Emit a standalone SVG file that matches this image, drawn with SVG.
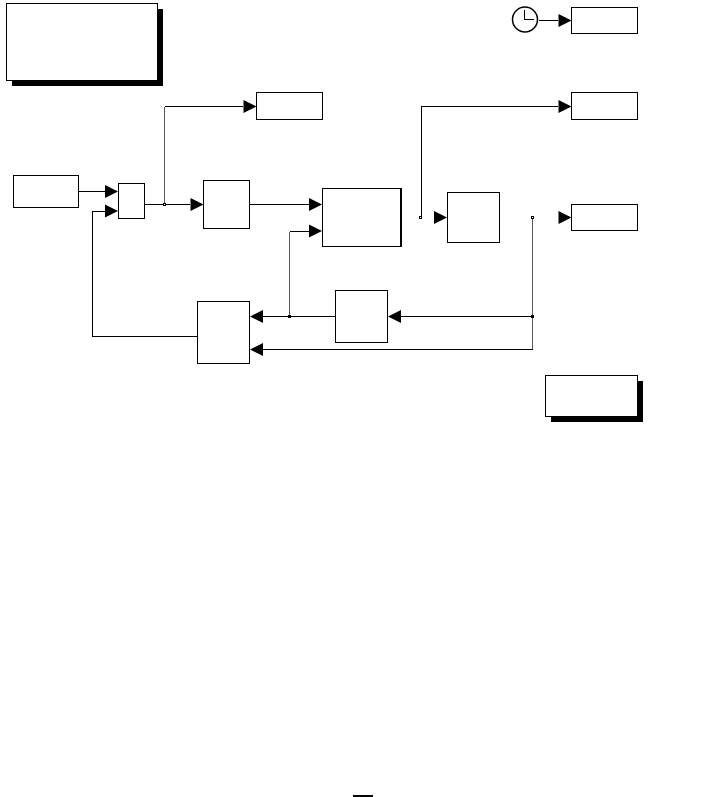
<svg xmlns="http://www.w3.org/2000/svg" width="725" height="797" viewBox="0 0 725 797">
<style>
.b{fill:#fff;stroke:#000;stroke-width:1}
.s{fill:#000;stroke:none}
.l{fill:none;stroke:#000;stroke-width:1;shape-rendering:crispEdges}
.g{fill:none;stroke:#555;stroke-width:1;shape-rendering:crispEdges}
.j{fill:#fff;stroke:#000;stroke-width:1;shape-rendering:crispEdges}
.a{fill:#000;stroke:none}
</style>
<defs>
<polygon id="r" class="a" points="0,-6.500 13,0 0,6.500"/>
<polygon id="w" class="a" points="13,-6.500 0,0 13,6.500"/>
</defs>
<rect width="725" height="797" fill="#fff"/>
<g id="connectors">
<path class="l" d="M78.500 191.500H105"/>
<path class="l" d="M144.500 204.500H190"/>
<path class="g" d="M164.500 204.500V106.500"/>
<path class="l" d="M164.500 106.500H243"/>
<path class="l" d="M249.500 204.500H309"/>
<path class="l" d="M335.500 316.500H263"/>
<path class="g" d="M289.500 316.500V231.500"/>
<path class="l" d="M289.500 231.500H309"/>
<path class="l" d="M197.500 336.500H92.500V211.500H105"/>
<path class="l" d="M421.500 217V106.500H558"/>
<path class="l" d="M539 20.500H558"/>
<path class="g" d="M532.500 217V349.500"/>
<path class="l" d="M532.500 349.500H263"/>
<path class="l" d="M532.500 316.500H401"/>
<use href="#r" x="105" y="191.500"/>
<use href="#r" x="105" y="211"/>
<use href="#r" x="190.500" y="204.500"/>
<use href="#r" x="243.500" y="106.500"/>
<use href="#r" x="309" y="204.500"/>
<use href="#r" x="309" y="231"/>
<use href="#r" x="434" y="217.500"/>
<use href="#r" x="558.500" y="217.500"/>
<use href="#r" x="558.500" y="106.500"/>
<use href="#r" x="558.500" y="20.500"/>
<use href="#w" x="250" y="316.500"/>
<use href="#w" x="250" y="349.500"/>
<use href="#w" x="388" y="316.500"/>
<rect class="j" x="163.500" y="203.500" width="2" height="2"/>
<rect class="j" x="419.500" y="216.500" width="2" height="2"/>
<rect class="j" x="531.500" y="216.500" width="2" height="2"/>
<rect class="s" x="288" y="315" width="3" height="3"/>
<rect class="s" x="531" y="315" width="3" height="3"/>
</g>
<g id="note-top"><rect class="s" x="12" y="9" width="151" height="77"/><rect class="b" x="6.500" y="3.500" width="151" height="77"/></g>
<g id="scope-a"><rect class="b" x="256.500" y="92.500" width="66" height="27"/></g>
<g id="source"><rect class="b" x="13.500" y="175.500" width="65" height="32"/></g>
<g id="sum"><rect class="b" x="118.500" y="183.500" width="26" height="35"/></g>
<g id="controller"><rect class="b" x="203.500" y="180.500" width="46" height="48"/></g>
<g id="plant"><rect class="s" x="400" y="188" width="2" height="59"/><rect class="b" x="322.500" y="188.500" width="78" height="58"/></g>
<g id="clock"><circle cx="525" cy="19.500" r="12.500" fill="#fff" stroke="#000" stroke-width="1.500"/><path class="l" d="M524.500 10V19.500H534"/></g>
<g id="scope-clock"><rect class="b" x="571.500" y="7.500" width="66" height="26"/></g>
<g id="scope-b"><rect class="b" x="571.500" y="92.500" width="66" height="27"/></g>
<g id="scope-c"><rect class="b" x="571.500" y="204.500" width="66" height="26"/></g>
<g id="middle"><rect class="b" x="447.500" y="192.500" width="52" height="50"/></g>
<g id="feedback"><rect class="b" x="197.500" y="301.500" width="52" height="62"/></g>
<g id="delay"><rect class="b" x="335.500" y="290.500" width="52" height="52"/></g>
<g id="note-bottom"><rect class="s" x="551" y="381" width="92" height="41"/><rect class="b" x="545.500" y="375.500" width="92" height="41"/></g>
<rect class="s" x="353" y="795" width="20" height="2"/>
</svg>
